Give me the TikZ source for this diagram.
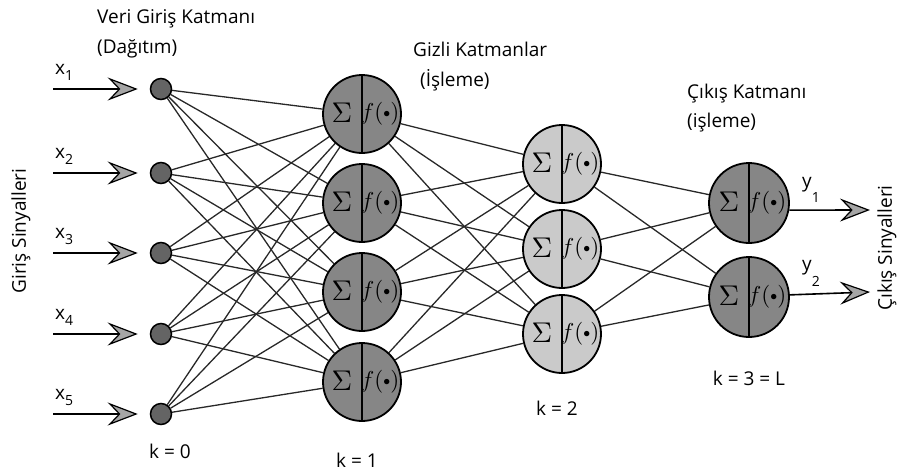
\documentclass[tikz,border=0pt]{standalone}
\usepackage{fontspec}
\setmainfont{Open Sans}
\usetikzlibrary{arrows.meta,backgrounds}
\definecolor{darkfill}{RGB}{134,134,134}
\definecolor{lightfill}{RGB}{202,202,202}
\definecolor{infill}{RGB}{100,100,100}
\definecolor{tipfill}{RGB}{165,165,165}
\definecolor{wirec}{RGB}{40,40,40}
\newcommand{\fdot}{\scalebox{2.3}{$f(\mathord{\vcenter{\hbox{\scalebox{0.6}{$\bullet$}}}})$}}
\newcommand{\bigsum}{\scalebox{2.85}{$\Sigma$}}
\begin{document}
\begin{tikzpicture}[x=1pt,y=-1pt,
  neuron/.style={circle,draw=black,line width=1.8pt,minimum size=78pt,inner sep=0pt},
  hidA/.style={neuron,fill=darkfill},
  hidB/.style={neuron,fill=lightfill},
  outn/.style={neuron,fill=darkfill,minimum size=80pt},
  innode/.style={circle,draw=black,line width=1.5pt,fill=infill,minimum size=21pt,inner sep=0pt},
  wire/.style={draw=wirec,line width=1.3pt},
  sig/.style={draw=black,line width=1.6pt,-{Stealth[length=30pt,width=23pt,inset=11pt,line width=1.2pt,fill=tipfill]}},
  lab/.style={font=\fontsize{19}{23}\selectfont,inner sep=0pt},
  mlab/.style={font=\normalsize,inner sep=0pt},
]
\useasboundingbox (0,0) rectangle (898,475);

% input nodes
\foreach \i/\y in {1/89,2/173,3/253,4/334,5/414}{
  \node[innode] (in\i) at (161,\y) {};
  \coordinate (s\i) at (53,\y);
  \draw[sig] (s\i) -- ([xshift=-12pt]in\i.west);
  \node[lab,anchor=base west] at (55,\y-15) {x\raisebox{-6pt}{\fontsize{14}{14}\selectfont\i}};
}
% hidden layer 1
\foreach \i/\y in {1/114,2/203,3/292,4/382}{
  \node[hidA] (a\i) at (362,\y) {};
}
% hidden layer 2
\foreach \i/\y in {1/164,2/249,3/334}{
  \node[hidB] (b\i) at (562,\y) {};
}
% output layer
\foreach \i/\y in {1/203,2/297}{
  \node[outn] (o\i) at (749,\y) {};
}
% neuron interiors
\foreach \n in {a1,a2,a3,a4,b1,b2,b3,o1,o2}{
  \draw[line width=1.8pt] (\n.north) -- (\n.south);
  \node[mlab] at ([xshift=-20pt,yshift=1pt]\n.center) {\bigsum};
  \node[mlab] at ([xshift=18pt]\n.center) {\fdot};
}

\begin{pgfonlayer}{background}
\foreach \i in {1,...,5}{\foreach \j in {1,...,4}{\draw[wire] (in\i) -- (a\j);}}
\foreach \i in {1,...,4}{\foreach \j in {1,...,3}{\draw[wire] (a\i) -- (b\j);}}
\foreach \i in {1,...,3}{\foreach \j in {1,2}{\draw[wire] (b\i) -- (o\j);}}
\end{pgfonlayer}

% output arrows
\coordinate (e1) at (870,210);
\coordinate (e2) at (870,292);
\draw[sig] (o1.-10) -- (e1);
\draw[sig] (o2.3) -- (e2);
\node[lab,anchor=base west] at (802,187) {y\raisebox{-15pt}{\fontsize{14}{14}\selectfont 1}};
\node[lab,anchor=base west] at (802,270) {y\raisebox{-16pt}{\fontsize{14}{14}\selectfont 2}};

% texts
\node[lab,anchor=base west] at (97,23) {Veri Giriş Katmanı};
\node[lab,anchor=base west] at (97,53) {(Dağıtım)};
\node[lab,anchor=base west] at (413,56) {Gizli Katmanlar};
\node[lab,anchor=base west] at (420,86) {(İşleme)};
\node[lab,anchor=base west] at (687,98) {Çıkış Katmanı};
\node[lab,anchor=base west] at (687,127) {(işleme)};
\node[lab] at (170,451) {k = 0};
\node[lab] at (357,460) {k = 1};
\node[lab] at (557,408) {k = 2};
\node[lab] at (749,378) {k = 3 = L};
\node[lab,rotate=90] at (21,231) {Giriş Sinyalleri};
\node[lab,rotate=90] at (887,248) {Çıkış Sinyalleri};
\end{tikzpicture}
\end{document}
